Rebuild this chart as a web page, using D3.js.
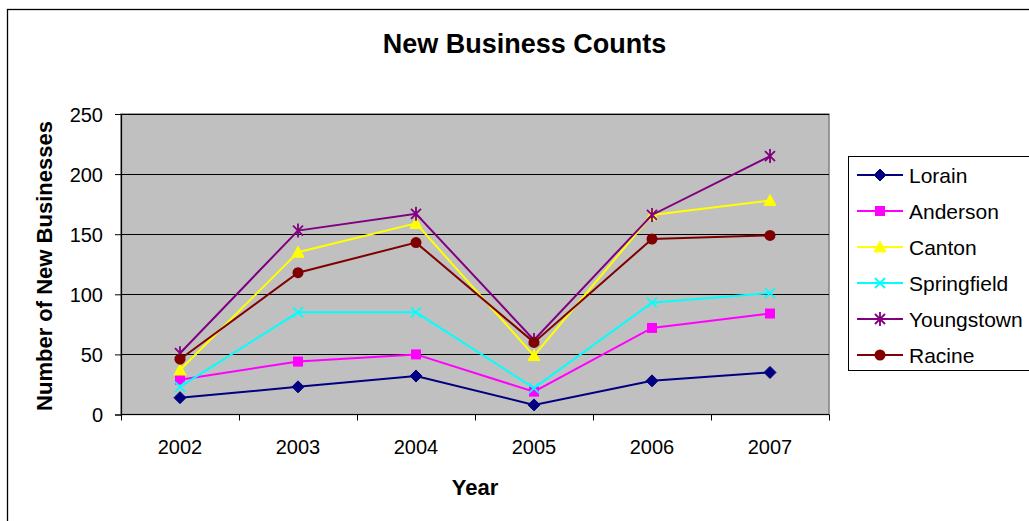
<!DOCTYPE html>
<html>
<head>
<meta charset="utf-8">
<script src="https://cdn.jsdelivr.net/npm/d3@7"></script>
<style>
  body { margin: 0; background: #fff; }
  text { font-family: "Liberation Sans", Arial, sans-serif; }
</style>
</head>
<body>
<div id="chart"></div>
<script>
const width = 1029;
const height = 521;

// data
const years = ["2002", "2003", "2004", "2005", "2006", "2007"];
const lorain = [14, 23, 32, 8, 28, 35];
const anderson = [29, 44, 50, 19, 72, 84];
const canton = [37, 135, 159, 49, 166, 178];
const springfield = [23, 85, 85, 22, 93, 101];
const youngstown = [51, 153, 167, 62, 166, 215];
const racine = [46, 118, 143, 60, 146, 149];
const yTicks = [0, 50, 100, 150, 200, 250];

const series = [
  { name: "Lorain", values: lorain, color: "#000080", marker: "diamond" },
  { name: "Anderson", values: anderson, color: "#FF00FF", marker: "square" },
  { name: "Canton", values: canton, color: "#FFFF00", marker: "triangle" },
  { name: "Springfield", values: springfield, color: "#00FFFF", marker: "x" },
  { name: "Youngstown", values: youngstown, color: "#800080", marker: "star" },
  { name: "Racine", values: racine, color: "#800000", marker: "circle" }
];

const plot = { left: 121, top: 114, right: 829, bottom: 414.5 };

const svg = d3.select("#chart").append("svg")
  .attr("width", width)
  .attr("height", height);

// chart area border
svg.append("rect")
  .attr("x", 7.5).attr("y", 9.5)
  .attr("width", 1040).attr("height", 540)
  .attr("fill", "#fff")
  .attr("stroke", "#000")
  .attr("stroke-width", 1.3);

const x = d3.scaleBand().domain(years).range([plot.left, plot.right]);
const y = d3.scaleLinear().domain([0, 250]).range([plot.bottom, plot.top]);

// plot area
svg.append("rect")
  .attr("x", plot.left).attr("y", plot.top)
  .attr("width", plot.right - plot.left).attr("height", plot.bottom - plot.top)
  .attr("fill", "#C0C0C0")
  .attr("stroke", "#808080")
  .attr("stroke-width", 1.5);

// gridlines
svg.append("g").selectAll("line")
  .data(yTicks.filter(d => d > 0))
  .join("line")
  .attr("x1", plot.left).attr("x2", plot.right)
  .attr("y1", d => Math.round(y(d)) + 0.5).attr("y2", d => Math.round(y(d)) + 0.5)
  .attr("stroke", "#000")
  .attr("stroke-width", 1);

// y axis
const yAxis = svg.append("g")
  .attr("transform", `translate(${plot.left},0)`)
  .call(d3.axisLeft(y).tickValues(yTicks).tickSize(6).tickPadding(12));
yAxis.select(".domain").attr("stroke", "#000").attr("stroke-width", 1.2);
yAxis.selectAll("text").attr("font-size", 20).attr("fill", "#000")
  .attr("dy", "0.36em")
  .style("font-family", "'Liberation Sans', Arial, sans-serif");

// x axis with ticks at category boundaries
const xAxis = svg.append("g")
  .attr("transform", `translate(0,${plot.bottom})`);
xAxis.append("line")
  .attr("x1", plot.left).attr("x2", plot.right)
  .attr("stroke", "#000").attr("stroke-width", 1.2);
const bounds = years.map(d => x(d)).concat([plot.right]);
xAxis.selectAll(".tick").data(bounds).join("line")
  .attr("class", "tick")
  .attr("x1", d => Math.round(d) + 0.5).attr("x2", d => Math.round(d) + 0.5)
  .attr("y1", 0).attr("y2", 6)
  .attr("stroke", "#000");
xAxis.selectAll(".lbl").data(years).join("text")
  .attr("class", "lbl")
  .attr("x", d => x(d) + x.bandwidth() / 2)
  .attr("y", 39.5)
  .attr("text-anchor", "middle")
  .attr("font-size", 20)
  .text(d => d);

// titles
svg.append("text")
  .attr("x", 524.5).attr("y", 53)
  .attr("text-anchor", "middle")
  .attr("font-size", 27).attr("font-weight", "bold")
  .text("New Business Counts");
svg.append("text")
  .attr("x", 475).attr("y", 495)
  .attr("text-anchor", "middle")
  .attr("font-size", 22).attr("font-weight", "bold")
  .text("Year");
svg.append("text")
  .attr("transform", `translate(52,266) rotate(-90)`)
  .attr("text-anchor", "middle")
  .attr("font-size", 22).attr("font-weight", "bold")
  .text("Number of New Businesses");

function drawMarker(g, type, color) {
  if (type === "diamond") {
    g.append("path").attr("d", "M0,-6L6,0L0,6L-6,0Z").attr("fill", color).attr("stroke", color);
  } else if (type === "square") {
    g.append("rect").attr("x", -5).attr("y", -5).attr("width", 10).attr("height", 10).attr("fill", color);
  } else if (type === "triangle") {
    g.append("path").attr("d", "M0,-6L6,5L-6,5Z").attr("fill", color).attr("stroke", color);
  } else if (type === "x") {
    g.append("path").attr("d", "M-5,-5L5,5M-5,5L5,-5").attr("stroke", color).attr("stroke-width", 1.8);
  } else if (type === "star") {
    g.append("path").attr("d", "M-5,-5L5,5M-5,5L5,-5M0,-7L0,7").attr("stroke", color).attr("stroke-width", 1.8);
  } else if (type === "circle") {
    g.append("circle").attr("r", 5.5).attr("fill", color);
  }
}

const line = d3.line()
  .x((d, i) => x(years[i]) + x.bandwidth() / 2)
  .y(d => y(d));

series.forEach(s => {
  svg.append("path")
    .attr("d", line(s.values))
    .attr("fill", "none")
    .attr("stroke", s.color)
    .attr("stroke-width", 2);
  s.values.forEach((v, i) => {
    const g = svg.append("g")
      .attr("transform", `translate(${x(years[i]) + x.bandwidth() / 2},${y(v)})`);
    drawMarker(g, s.marker, s.color);
  });
});

// legend
const legend = svg.append("g");
legend.append("rect")
  .attr("x", 848.5).attr("y", 156.5)
  .attr("width", 190).attr("height", 214)
  .attr("fill", "#fff")
  .attr("stroke", "#000")
  .attr("stroke-width", 1);
series.forEach((s, i) => {
  const ly = 175 + i * 36;
  legend.append("line")
    .attr("x1", 857).attr("x2", 903)
    .attr("y1", ly).attr("y2", ly)
    .attr("stroke", s.color).attr("stroke-width", 2);
  drawMarker(legend.append("g").attr("transform", `translate(880,${ly})`), s.marker, s.color);
  legend.append("text")
    .attr("x", 909).attr("y", ly + 8)
    .attr("font-size", 21)
    .text(s.name);
});
</script>
</body>
</html>
